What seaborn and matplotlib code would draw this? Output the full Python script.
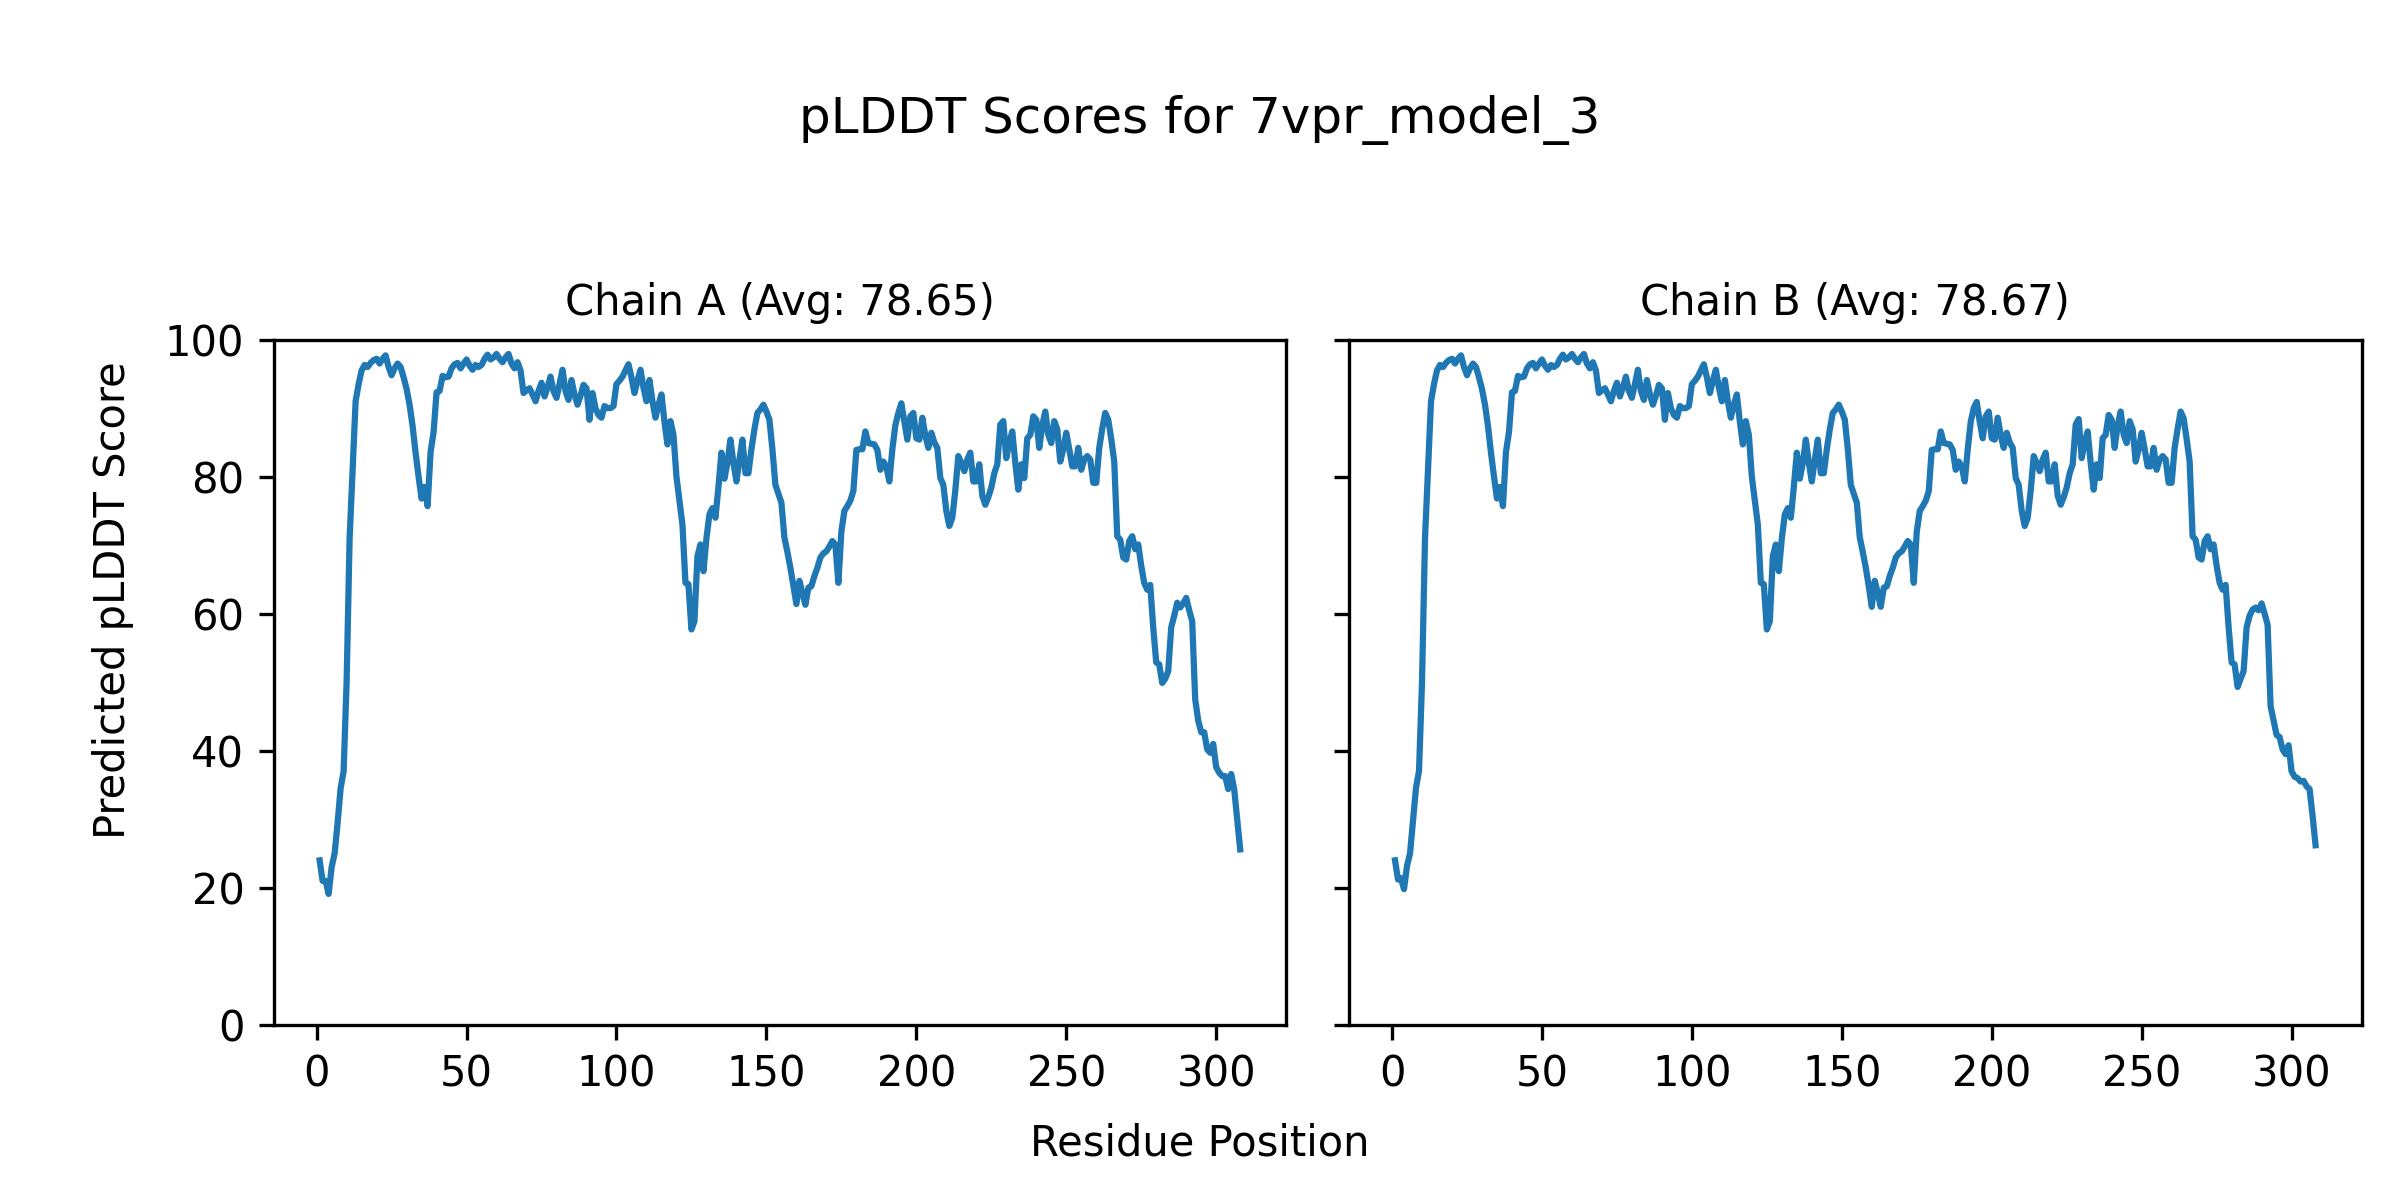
import numpy as np
import pandas as pd
import matplotlib
matplotlib.use("Agg")
import matplotlib.pyplot as plt
import seaborn as sns

model_name = "7vpr_model_3"
chain_ids = ["A", "B"]
chain_avgs = [78.65, 78.67]

# per-residue pLDDT
plddt_a = [
    24.0, 21.0, 21.0, 19.1, 23.0, 25.0, 29.5, 34.5, 37.0, 50.0,
    71.0, 81.0, 91.0, 93.5, 95.5, 96.3, 96.0, 96.6, 97.0, 97.2,
    96.5, 97.2, 97.7, 96.0, 94.8, 95.8, 96.5, 96.0, 94.5, 92.8,
    90.5, 87.4, 83.5, 80.0, 76.8, 78.5, 75.7, 83.6, 86.5, 92.3,
    92.5, 94.7, 94.5, 94.6, 95.8, 96.4, 96.6, 95.8, 96.5, 97.1,
    96.2, 95.6, 96.3, 96.0, 96.3, 97.2, 97.8, 97.1, 97.4, 97.9,
    97.2, 96.7, 97.4, 97.9, 96.5, 95.8, 96.7, 95.5, 92.2, 92.6,
    92.9, 92.0, 91.0, 92.5, 93.7, 91.7, 93.0, 94.6, 92.5, 91.5,
    93.5, 95.6, 92.5, 91.2, 94.1, 92.0, 90.5, 91.8, 93.4, 92.9,
    88.3, 92.2, 90.0, 89.0, 88.6, 90.3, 90.0, 90.0, 90.3, 93.5,
    94.0, 94.6, 95.5, 96.4, 94.5, 92.2, 94.0, 95.6, 93.0, 91.0,
    94.1, 91.0, 88.6, 90.5, 92.0, 88.0, 84.7, 88.1, 86.1, 80.0,
    76.5, 73.0, 64.5, 64.3, 57.7, 58.9, 68.4, 70.1, 66.2, 71.0,
    74.5, 75.4, 74.0, 78.5, 83.5, 79.7, 82.0, 85.4, 82.0, 79.3,
    82.5, 85.4, 80.5, 80.5, 84.0, 86.9, 89.3, 89.8, 90.5, 89.5,
    88.3, 84.0, 78.8, 77.5, 76.2, 71.1, 69.0, 66.7, 64.0, 61.4,
    64.8, 63.0, 61.3, 63.8, 64.0, 65.5, 66.7, 68.2, 68.8, 69.1,
    69.8, 70.6, 70.1, 64.5, 72.0, 75.0, 75.7, 76.5, 77.9, 83.9,
    84.0, 84.0, 86.6, 84.9, 84.8, 84.7, 83.9, 81.0, 82.2, 81.5,
    79.3, 84.0, 87.5, 89.3, 90.7, 88.0, 85.4, 88.8, 89.3, 85.6,
    85.4, 88.6, 86.0, 84.2, 86.4, 85.0, 84.2, 79.8, 78.8, 75.0,
    72.8, 74.0, 78.0, 83.0, 82.0, 80.8, 82.5, 83.5, 79.3, 79.3,
    81.8, 77.2, 75.9, 77.0, 78.4, 80.5, 81.8, 87.6, 88.1, 82.7,
    85.0, 86.6, 82.0, 78.1, 81.8, 79.8, 85.6, 86.1, 88.8, 88.3,
    84.2, 87.5, 89.5, 86.1, 84.9, 88.1, 86.9, 82.2, 84.0, 86.4,
    84.0, 81.5, 81.5, 84.2, 81.0, 82.5, 83.0, 82.5, 79.1, 79.1,
    84.2, 87.0, 89.3, 88.3, 85.5, 82.2, 71.3, 70.8, 68.2, 67.9,
    70.6, 71.3, 69.4, 70.1, 67.0, 64.5, 63.5, 64.2, 58.0, 52.9,
    52.6, 49.9, 50.5, 51.6, 58.0, 59.7, 61.6, 60.9, 61.5, 62.3,
    60.5, 58.9, 47.5, 44.4, 42.7, 42.7, 40.2, 39.7, 41.0, 37.6,
    36.8, 36.3, 36.3, 34.4, 36.6, 34.4, 30.0, 25.6,
]

plddt_b = [
    24.0, 21.2, 21.4, 19.8, 23.2, 25.0, 29.8, 34.6, 37.0, 50.0,
    71.0, 81.0, 91.0, 93.5, 95.5, 96.3, 96.0, 96.6, 97.0, 97.2,
    96.5, 97.2, 97.7, 96.0, 94.8, 95.8, 96.5, 96.0, 94.5, 92.8,
    90.5, 87.4, 83.5, 80.0, 76.8, 78.5, 75.7, 83.6, 86.5, 92.3,
    92.5, 94.7, 94.5, 94.6, 95.8, 96.4, 96.6, 95.8, 96.5, 97.1,
    96.2, 95.6, 96.3, 96.0, 96.3, 97.2, 97.8, 97.1, 97.4, 97.9,
    97.2, 96.7, 97.4, 97.9, 96.5, 95.8, 96.7, 95.5, 92.2, 92.6,
    92.9, 92.0, 91.0, 92.5, 93.7, 91.7, 93.0, 94.6, 92.5, 91.5,
    93.5, 95.6, 92.5, 91.2, 94.1, 92.0, 90.5, 91.8, 93.4, 92.9,
    88.3, 92.2, 90.0, 89.0, 88.6, 90.3, 90.0, 90.0, 90.3, 93.5,
    94.0, 94.6, 95.5, 96.4, 94.5, 92.2, 94.0, 95.6, 93.0, 91.0,
    94.1, 91.0, 88.6, 90.5, 92.0, 88.0, 84.7, 88.1, 86.1, 80.0,
    76.5, 73.0, 64.5, 64.3, 57.7, 58.9, 68.4, 70.1, 66.2, 71.0,
    74.5, 75.4, 74.0, 78.5, 83.5, 79.7, 82.0, 85.4, 82.0, 79.3,
    82.5, 85.4, 80.5, 80.5, 84.0, 86.9, 89.3, 89.8, 90.5, 89.5,
    88.3, 84.0, 78.8, 77.5, 76.2, 71.1, 69.0, 66.7, 64.0, 61.0,
    64.8, 63.0, 61.0, 63.8, 64.0, 65.5, 66.7, 68.2, 68.8, 69.1,
    69.8, 70.6, 70.1, 64.5, 72.0, 75.0, 75.7, 76.5, 77.9, 83.9,
    84.0, 84.0, 86.6, 84.9, 84.8, 84.7, 83.9, 81.0, 82.2, 81.5,
    79.3, 84.0, 88.0, 90.0, 90.9, 88.0, 85.6, 88.8, 89.5, 85.6,
    85.4, 88.6, 86.0, 84.2, 86.4, 85.0, 84.2, 79.8, 78.8, 75.0,
    72.8, 74.0, 78.0, 83.0, 82.0, 80.8, 82.5, 83.5, 79.3, 79.3,
    81.8, 77.2, 75.9, 77.0, 78.4, 80.5, 81.8, 87.6, 88.4, 82.7,
    85.0, 86.6, 82.0, 78.1, 81.8, 79.8, 85.6, 86.1, 89.0, 88.3,
    84.2, 87.5, 89.5, 86.1, 84.9, 88.1, 86.9, 82.2, 84.0, 86.4,
    84.0, 81.5, 81.5, 84.2, 81.0, 82.5, 83.0, 82.5, 79.1, 79.1,
    84.2, 87.0, 89.5, 88.5, 85.5, 82.2, 71.3, 70.8, 68.2, 67.9,
    70.6, 71.3, 69.4, 70.1, 67.0, 64.5, 63.5, 64.2, 58.0, 52.9,
    52.6, 49.3, 50.5, 51.6, 58.0, 59.7, 60.6, 60.9, 60.5, 61.5,
    60.0, 58.4, 46.5, 44.4, 42.3, 42.0, 40.2, 39.5, 40.8, 37.0,
    36.2, 36.0, 35.5, 35.6, 34.8, 34.4, 30.5, 26.2,
]

residues = np.arange(1, len(plddt_a) + 1)

df = pd.concat([
    pd.DataFrame({"Residue": residues, "pLDDT": plddt_a, "Chain": "A"}),
    pd.DataFrame({"Residue": residues, "pLDDT": plddt_b, "Chain": "B"}),
])

fig, axs = plt.subplots(1, 2, figsize=(8, 4), dpi=300, sharey=True)

for ax, ch, avg in zip(axs, chain_ids, chain_avgs):
    sub = df[df["Chain"] == ch]
    sns.lineplot(data=sub, x="Residue", y="pLDDT", ax=ax, color="#1f77b4", linewidth=1.5)
    ax.set_title(f"Chain {ch} (Avg: {avg:.2f})", fontsize=10)
    ax.set_xlabel("")
    ax.set_ylabel("")
    ax.set_ylim(0, 100)
    ax.set_xticks([0, 50, 100, 150, 200, 250, 300])

fig.subplots_adjust(left=0.114, right=0.984, bottom=0.146, top=0.717, wspace=0.062)
fig.suptitle(f"pLDDT Scores for {model_name}", fontsize=12, y=0.9, va="center")
fig.supxlabel("Residue Position", fontsize=10, y=0.047, va="center")
fig.supylabel("Predicted pLDDT Score", fontsize=10, x=0.047, ha="center")

fig.savefig("out.png", dpi=300)
